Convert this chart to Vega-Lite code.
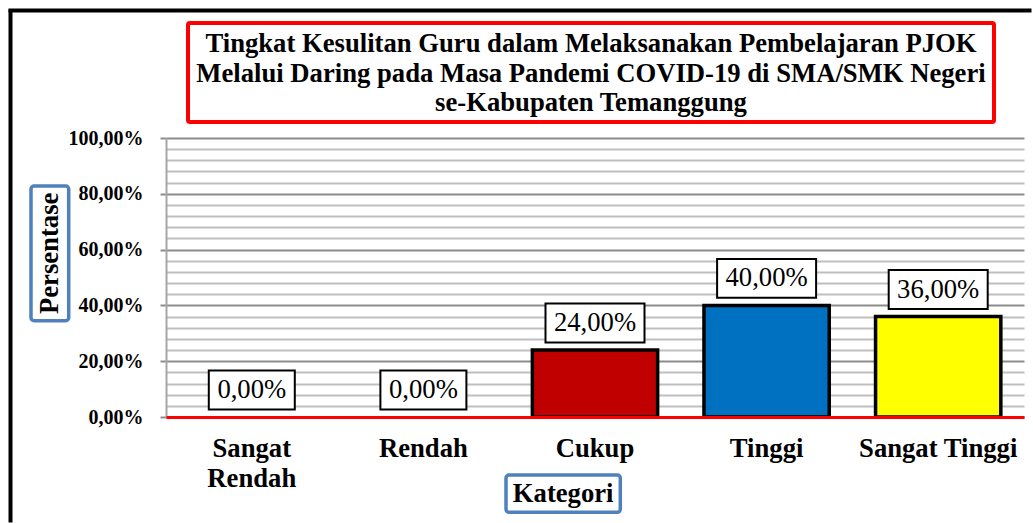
{
  "$schema": "https://vega.github.io/schema/vega-lite/v6.json",
  "autosize": {"type": "pad"},
  "padding": {"left": 8, "top": 8, "right": 0, "bottom": 0},
  "background": "white",
  "config": {
    "font": "Liberation Serif",
    "view": {"stroke": null},
    "locale": {"number": {"decimal": ",", "thousands": ".", "grouping": [3], "currency": ["", ""]}}
  },
  "spacing": 0,
  "bounds": "flush",
  "vconcat": [
    {"width": 1020, "height": 1, "data": {"values": []}, "mark": "point", "encoding": {}, "view": {"stroke": "black", "strokeWidth": 3}},
    {
      "spacing": 0,
      "bounds": "flush",
      "hconcat": [
        {"width": 1, "height": 510, "data": {"values": []}, "mark": "point", "encoding": {}, "view": {"stroke": "black", "strokeWidth": 3}},
        {"width": 19.8, "height": 1, "data": {"values": []}, "mark": "point", "encoding": {}},
        {
          "spacing": 0,
          "bounds": "flush",
          "vconcat": [
            {"width": 37.7, "height": 174.8, "data": {"values": []}, "mark": "point", "encoding": {}},
            {
              "width": 37.7,
              "height": 134.7,
              "data": {"values": [{"t": "Persentase"}]},
              "mark": {"type": "text", "angle": 270, "fontSize": 26.67, "fontWeight": "bold", "baseline": "middle", "align": "center", "color": "black"},
              "encoding": {"text": {"field": "t"}},
              "view": {"stroke": "#4F81BD", "strokeWidth": 3.5, "cornerRadius": 3}
            }
          ]
        },
        {"width": 134.7, "height": 1, "data": {"values": []}, "mark": "point", "encoding": {}},
        {
          "spacing": 0,
          "bounds": "flush",
          "vconcat": [
            {"width": 1, "height": 11.5, "data": {"values": []}, "mark": "point", "encoding": {}},
            {
              "spacing": 0,
              "bounds": "flush",
              "hconcat": [
                {"width": 22, "height": 1, "data": {"values": []}, "mark": "point", "encoding": {}},
                {
                  "width": 806,
                  "height": 99,
                  "data": {"values": [{"t": "Tingkat Kesulitan Guru dalam Melaksanakan Pembelajaran PJOK\nMelalui Daring pada Masa Pandemi COVID-19 di SMA/SMK Negeri\nse-Kabupaten Temanggung"}]},
                  "mark": {"type": "text", "fontSize": 26.67, "fontWeight": "bold", "lineBreak": "\n", "lineHeight": 29.5, "baseline": "middle", "align": "center", "dy": -28.5, "color": "black"},
                  "encoding": {"text": {"field": "t"}},
                  "view": {"stroke": "#FF0000", "strokeWidth": 4, "cornerRadius": 2}
                }
              ]
            },
            {"width": 1, "height": 115, "data": {"values": []}, "mark": "point", "encoding": {}},
            {
              "width": 858,
              "height": 279,
              "data": {"values": [
                {"Kategori": "Sangat Rendah", "Persentase": 0},
                {"Kategori": "Rendah", "Persentase": 0},
                {"Kategori": "Cukup", "Persentase": 0.24},
                {"Kategori": "Tinggi", "Persentase": 0.40},
                {"Kategori": "Sangat Tinggi", "Persentase": 0.36}
              ]},
              "encoding": {
                "x": {
                  "field": "Kategori", "type": "nominal",
                  "sort": ["Sangat Rendah", "Rendah", "Cukup", "Tinggi", "Sangat Tinggi"],
                  "scale": {"paddingInner": 0.27, "paddingOuter": 0.135},
                  "axis": {
                    "title": null, "labelAngle": 0, "labelFontSize": 26.67, "labelFontWeight": "bold", "labelColor": "black",
                    "ticks": false, "tickSize": 0, "labelPadding": 18.5, "domainColor": "#FF0000", "domainWidth": 3,
                    "zindex": 1, "labelLineHeight": 29.5, "labelLimit": 0, "labelOverlap": false, "grid": false,
                    "labelExpr": "datum.label == 'Sangat Rendah' ? ['Sangat', 'Rendah'] : datum.label"
                  }
                },
                "y": {
                  "field": "Persentase", "type": "quantitative",
                  "scale": {"domain": [0, 1], "nice": false},
                  "axis": {
                    "title": null,
                    "values": [0, 0.04, 0.08, 0.12, 0.16, 0.2, 0.24, 0.28, 0.32, 0.36, 0.4, 0.44, 0.48, 0.52, 0.56, 0.6, 0.64, 0.68, 0.72, 0.76, 0.8, 0.84, 0.88, 0.92, 0.96, 1],
                    "format": ".2%",
                    "labelExpr": "abs(datum.value * 5 - round(datum.value * 5)) < 0.001 ? datum.label : ''",
                    "labelFontSize": 20, "labelFontWeight": "bold", "labelColor": "black", "labelPadding": 17,
                    "labelOverlap": false, "labelFlush": false, "labelBound": false,
                    "grid": true,
                    "gridColor": {"condition": {"test": "abs(datum.value * 5 - round(datum.value * 5)) < 0.001", "value": "#8C8C8C"}, "value": "#BFBFBF"},
                    "gridWidth": 2,
                    "domainColor": "#A6A6A6", "domainWidth": 2,
                    "tickColor": "#8C8C8C", "tickWidth": 2, "tickSize": 6,
                    "tickOpacity": {"condition": {"test": "abs(datum.value * 5 - round(datum.value * 5)) < 0.001", "value": 1}, "value": 0}
                  }
                }
              },
              "layer": [
                {
                  "transform": [{"filter": "datum.Persentase > 0"}],
                  "mark": {"type": "bar", "stroke": "black", "strokeWidth": 3.5},
                  "encoding": {
                    "color": {
                      "field": "Kategori", "type": "nominal",
                      "scale": {"domain": ["Sangat Rendah", "Rendah", "Cukup", "Tinggi", "Sangat Tinggi"], "range": ["#FFFFFF", "#FFFFFF", "#C00000", "#0070C0", "#FFFF00"]},
                      "legend": null
                    }
                  }
                },
                {
                  "mark": {"type": "point", "filled": true, "fill": "white", "stroke": "black", "strokeWidth": 2, "opacity": 1, "fillOpacity": 1, "strokeOpacity": 1, "yOffset": -27},
                  "encoding": {
                    "shape": {"condition": {"test": "datum.Persentase < 0.1", "value": "M-1,-0.4535L1,-0.4535L1,0.4535L-1,0.4535Z"}, "value": "M-1,-0.393L1,-0.393L1,0.393L-1,0.393Z"},
                    "size": {"condition": {"test": "datum.Persentase < 0.1", "value": 7396}, "value": 9801}
                  }
                },
                {
                  "mark": {"type": "text", "fontSize": 26.67, "yOffset": -27, "baseline": "middle", "align": "center", "color": "black"},
                  "encoding": {"text": {"field": "Persentase", "type": "quantitative", "format": ".2%"}}
                }
              ]
            },
            {"width": 1, "height": 58, "data": {"values": []}, "mark": "point", "encoding": {}},
            {
              "spacing": 0,
              "bounds": "flush",
              "hconcat": [
                {"width": 339.7, "height": 1, "data": {"values": []}, "mark": "point", "encoding": {}},
                {
                  "width": 114.3,
                  "height": 37.3,
                  "data": {"values": [{"t": "Kategori"}]},
                  "mark": {"type": "text", "fontSize": 26.67, "fontWeight": "bold", "baseline": "middle", "align": "center", "color": "black"},
                  "encoding": {"text": {"field": "t"}},
                  "view": {"stroke": "#4F81BD", "strokeWidth": 3.5, "cornerRadius": 3}
                }
              ]
            }
          ]
        }
      ]
    }
  ]
}
